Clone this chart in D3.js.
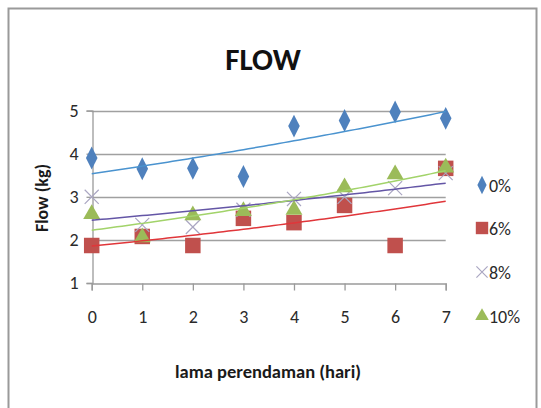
<!DOCTYPE html>
<html>
<head>
<meta charset="utf-8">
<script src="https://cdn.jsdelivr.net/npm/d3@7"></script>
<style>
  html, body { margin: 0; padding: 0; background: #fff; }
  svg { display: block; }
  text { font-family: Carlito, "Liberation Sans Narrow", Lato, sans-serif; }
</style>
</head>
<body>
<svg id="chart" width="541" height="408"></svg>
<script>
// Days of soaking (x) and measured flow per concentration
const days = [0, 1, 2, 3, 4, 5, 6, 7];
const flow0 = [3.9, 3.65, 3.66, 3.47, 4.64, 4.77, 4.97, 4.82];
const flow6 = [1.87, 2.08, 1.87, 2.5, 2.4, 2.8, 1.87, 3.66];
const flow8 = [3.0, 2.35, 2.3, 2.7, 2.95, 3.0, 3.2, 3.55];
const flow10 = [2.6, 2.06, 2.57, 2.67, 2.7, 3.22, 3.52, 3.68];
const seriesNames = ["0%", "6%", "8%", "10%"];
const yTicks = [1, 2, 3, 4, 5];

const series = [
  { name: seriesNames[0], values: flow0, marker: "diamond", fill: "#4f81bd", trend: "#4a93cf" },
  { name: seriesNames[1], values: flow6, marker: "square", fill: "#c0504d", trend: "#e0363a" },
  { name: seriesNames[2], values: flow8, marker: "cross", fill: "#aaa6c2", trend: "#6456a6" },
  { name: seriesNames[3], values: flow10, marker: "triangle", fill: "#9bbb59", trend: "#a2d36a" }
];

const svg = d3.select("#chart");

// chart frame
svg.append("rect")
  .attr("x", 8.5).attr("y", 8.5).attr("width", 528).attr("height", 420)
  .attr("fill", "#fff").attr("stroke", "#9a9a9a").attr("stroke-width", 2);

const x = d3.scaleLinear().domain([0, 7]).range([91.7, 445.7]);
const y = d3.scaleLinear().domain([1, 5]).range([283, 110.6]);

// horizontal gridlines
svg.append("g").selectAll("line")
  .data(yTicks.filter(t => t > 1))
  .join("line")
  .attr("x1", x(0)).attr("x2", x(7))
  .attr("y1", d => Math.round(y(d)) + 0.5).attr("y2", d => Math.round(y(d)) + 0.5)
  .attr("stroke", "#a0a0a0").attr("stroke-width", 1.3);

// y axis
const yAxis = svg.append("g")
  .attr("transform", `translate(${Math.round(x(0)) + 0.5},0)`)
  .call(d3.axisLeft(y).tickValues(yTicks).tickSize(6).tickPadding(8).tickFormat(d3.format("d")));
yAxis.select(".domain").attr("stroke", "#9a9a9a").attr("stroke-width", 1.3);
yAxis.selectAll(".tick line").attr("stroke", "#9a9a9a").attr("stroke-width", 1.3);
yAxis.selectAll(".tick text").attr("font-size", 18).attr("fill", "#2a2a2a");

// x axis
const xAxis = svg.append("g")
  .attr("transform", `translate(0,${Math.round(y(1)) + 0.5})`)
  .call(d3.axisBottom(x).tickValues(days).tickSize(7).tickPadding(20).tickFormat(d3.format("d")));
xAxis.select(".domain").attr("stroke", "#9a9a9a").attr("stroke-width", 1.3);
xAxis.selectAll(".tick line").attr("stroke", "#9a9a9a").attr("stroke-width", 1.3);
xAxis.selectAll(".tick text").attr("font-size", 18).attr("fill", "#2a2a2a");

// exponential trendline fit: y = a * e^(b x)
function expFit(xs, ys) {
  const ly = ys.map(Math.log);
  const mx = d3.mean(xs), my = d3.mean(ly);
  const b = d3.sum(xs, (xv, i) => (xv - mx) * (ly[i] - my)) / d3.sum(xs, xv => (xv - mx) ** 2);
  const a = Math.exp(my - b * mx);
  return xv => a * Math.exp(b * xv);
}

const symbolFor = {
  diamond: { type: d3.symbolDiamond, size: 105 },
  square: { type: d3.symbolSquare, size: 240 },
  triangle: { type: d3.symbolTriangle, size: 125 },
  cross: { type: d3.symbolX, size: 130 }
};

function drawMarker(g, kind, color, k) {
  const s = symbolFor[kind];
  const p = g.append("path").attr("d", d3.symbol(s.type, s.size * k * k)());
  if (kind === "cross") {
    p.attr("fill", "none").attr("stroke", color).attr("stroke-width", 1.2);
  } else if (kind === "diamond") {
    p.attr("fill", color).attr("transform", "scale(1.05,1.2)");
  } else {
    p.attr("fill", color);
  }
  return p;
}

// markers, drawn series by series
series.forEach(s => {
  const g = svg.append("g");
  s.values.forEach((v, i) => {
    const m = g.append("g").attr("transform", `translate(${x(days[i])},${y(v)})`);
    drawMarker(m, s.marker, s.fill, 1);
  });
});

// trendlines over the markers
const line = d3.line().x(d => x(d[0])).y(d => y(d[1]));
series.forEach(s => {
  const f = expFit(days, s.values);
  const pts = d3.range(0, 7.0001, 0.1).map(t => [t, f(t)]);
  svg.append("path")
    .attr("d", line(pts))
    .attr("fill", "none")
    .attr("stroke", s.trend)
    .attr("stroke-width", 1.5);
});

// legend
const legendY = [185, 228, 272, 316];
series.forEach((s, i) => {
  const g = svg.append("g").attr("transform", `translate(482,${legendY[i]})`);
  drawMarker(g, s.marker, s.fill, 0.8);
  g.append("text")
    .attr("x", 7).attr("y", 6.5)
    .attr("font-size", 18).attr("fill", "#2a2a2a")
    .text(s.name);
});

// titles
svg.append("text")
  .attr("x", 263).attr("y", 70)
  .attr("text-anchor", "middle")
  .attr("font-size", 31).attr("font-weight", "bold").attr("fill", "#111")
  .text("FLOW");

svg.append("text")
  .attr("x", 268).attr("y", 378)
  .attr("text-anchor", "middle")
  .attr("font-size", 18.5).attr("font-weight", "bold").attr("fill", "#1a1a1a")
  .text("lama perendaman (hari)");

svg.append("text")
  .attr("transform", "translate(48,198) rotate(-90)")
  .attr("text-anchor", "middle")
  .attr("font-size", 18).attr("font-weight", "bold").attr("fill", "#1a1a1a")
  .text("Flow (kg)");
</script>
</body>
</html>
